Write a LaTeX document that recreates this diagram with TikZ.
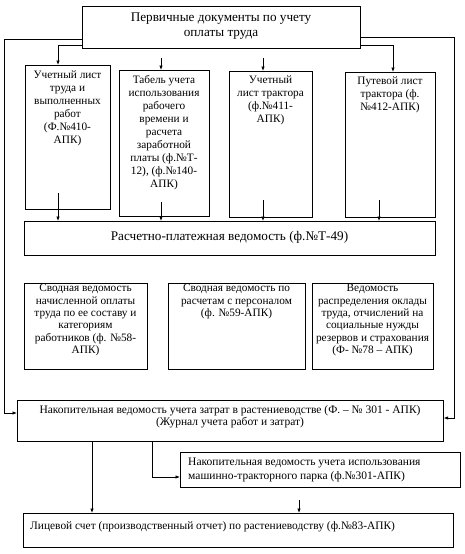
\documentclass[tikz,border=0pt]{standalone}
\usepackage{fontspec}
\setmainfont{Liberation Serif}
\usetikzlibrary{arrows.meta}
\begin{document}
\begin{tikzpicture}[x=1pt,y=-1pt,
  box/.style={draw,line width=0.7pt,inner sep=0pt,anchor=north west},
  txt/.style={inner sep=0pt,align=center,font=\fontsize{11.3}{13}\selectfont},
  mid/.style={inner sep=0pt,align=center,font=\fontsize{11.3}{12.4}\selectfont},
  big/.style={inner sep=0pt,align=center,font=\fontsize{13.2}{15}\selectfont},
  conn/.style={line width=0.7pt},
  arr/.style={line width=0.7pt,-{Latex[length=4.5pt,width=3.5pt]}}]
\useasboundingbox (0,0) rectangle (464,554);
% boxes
\node[box,minimum width=278pt,minimum height=42pt] (top) at (82,6) {};
\node[box,minimum width=85pt,minimum height=144pt] (b1) at (25,65) {};
\node[box,minimum width=90pt,minimum height=146pt] (b2) at (119,70) {};
\node[box,minimum width=83pt,minimum height=146pt] (b3) at (229,71) {};
\node[box,minimum width=90pt,minimum height=145pt] (b4) at (345,72) {};
\node[box,minimum width=411pt,minimum height=34pt] (t49) at (24,221) {};
\node[box,minimum width=123pt,minimum height=86pt] (b5) at (24,283) {};
\node[box,minimum width=137pt,minimum height=86pt] (b6) at (168,283) {};
\node[box,minimum width=121pt,minimum height=86pt] (b7) at (312,283) {};
\node[box,minimum width=426pt,minimum height=41pt] (b8) at (17,400) {};
\node[box,minimum width=280pt,minimum height=35pt] (b9) at (180,452) {};
\node[box,minimum width=430pt,minimum height=34pt] (b10) at (23,513) {};
% texts
\node[big] (ttop) at (221,26) {Первичные документы по учету\\оплаты труда};
\node[txt,anchor=north] (tb1) at (67.5,71) {Учетный лист\\труда и\\выполненных\\работ\\(Ф.№410-\\АПК)};
\node[txt,anchor=north] (tb2) at (164,75) {Табель учета\\использования\\рабочего\\времени и\\расчета\\заработной\\платы (ф.№Т-\\12), (ф.№140-\\АПК)};
\node[txt,anchor=north] (tb3) at (270.5,76) {Учетный\\лист трактора\\(ф.№411-\\АПК)};
\node[txt,anchor=north] (tb4) at (390,77) {Путевой лист\\трактора (ф.\\№412-АПК)};
\node[big] (tt49) at (229.5,237) {Расчетно-платежная ведомость (ф.№Т-49)};
\node[mid,anchor=north] (tb5) at (85.5,284) {Сводная ведомость\\начисленной оплаты\\труда по ее составу и\\категориям\\работников (ф. №58-\\АПК)};
\node[mid,anchor=north] (tb6) at (236.5,284) {Сводная ведомость по\\расчетам с персоналом\\(ф. №59-АПК)};
\node[mid,anchor=north] (tb7) at (372.5,284) {Ведомость\\распределения оклады\\труда, отчислений на\\социальные нужды\\резервов и страхования\\(Ф- №78 – АПК)};
\node[mid,font=\fontsize{11.5}{12.4}\selectfont] (tb8) at (230,417) {Накопительная ведомость учета затрат в растениеводстве (Ф. – № 301 - АПК)\\(Журнал учета работ и затрат)};
\node[txt,align=left,anchor=west,font=\fontsize{11.5}{14}\selectfont] (tb9) at (188,470) {Накопительная ведомость учета использования\\машинно-тракторного парка (ф.№301-АПК)};
\node[txt,align=left,anchor=west,font=\fontsize{11.4}{14}\selectfont] (tb10) at (30,527) {Лицевой счет (производственный отчет) по растениеводству (ф.№83-АПК)};
% free coordinates
\coordinate (c2) at (161,58);
\coordinate (c3) at (263,58);
\coordinate (s1) at (58,193);
\coordinate (s2) at (161,202);
\coordinate (s3) at (263,200);
\coordinate (s4) at (379,200);
\coordinate (s9) at (299,500);
% connectors
\draw[arr] (top.west |- 0,39) -- (4,39) -- (4,413) -- (b8.west |- 0,413);
\draw[arr] (top.east |- 0,37) -- (454,37) -- (454,418) -- (b8.east |- 0,418);
\draw[arr] (top.west |- 0,45) -| (b1.north -| 58,0);
\draw[arr] (top.east |- 0,45) -| (b4.north -| 393,0);
\draw[arr] (c2) -- (b2.north -| c2);
\draw[arr] (c3) -- (b3.north -| c3);
\draw[arr] (s1) -- (t49.north -| s1);
\draw[arr] (s2) -- (t49.north -| s2);
\draw[arr] (s3) -- (t49.north -| s3);
\draw[arr] (s4) -- (t49.north -| s4);
\draw[arr] (b8.south -| 92,0) -- (b10.north -| 92,0);
\draw[arr] (b8.south -| 152,0) |- (b9.west |- 0,477);
\draw[arr] (s9) -- (b10.north -| s9);
\end{tikzpicture}
\end{document}
